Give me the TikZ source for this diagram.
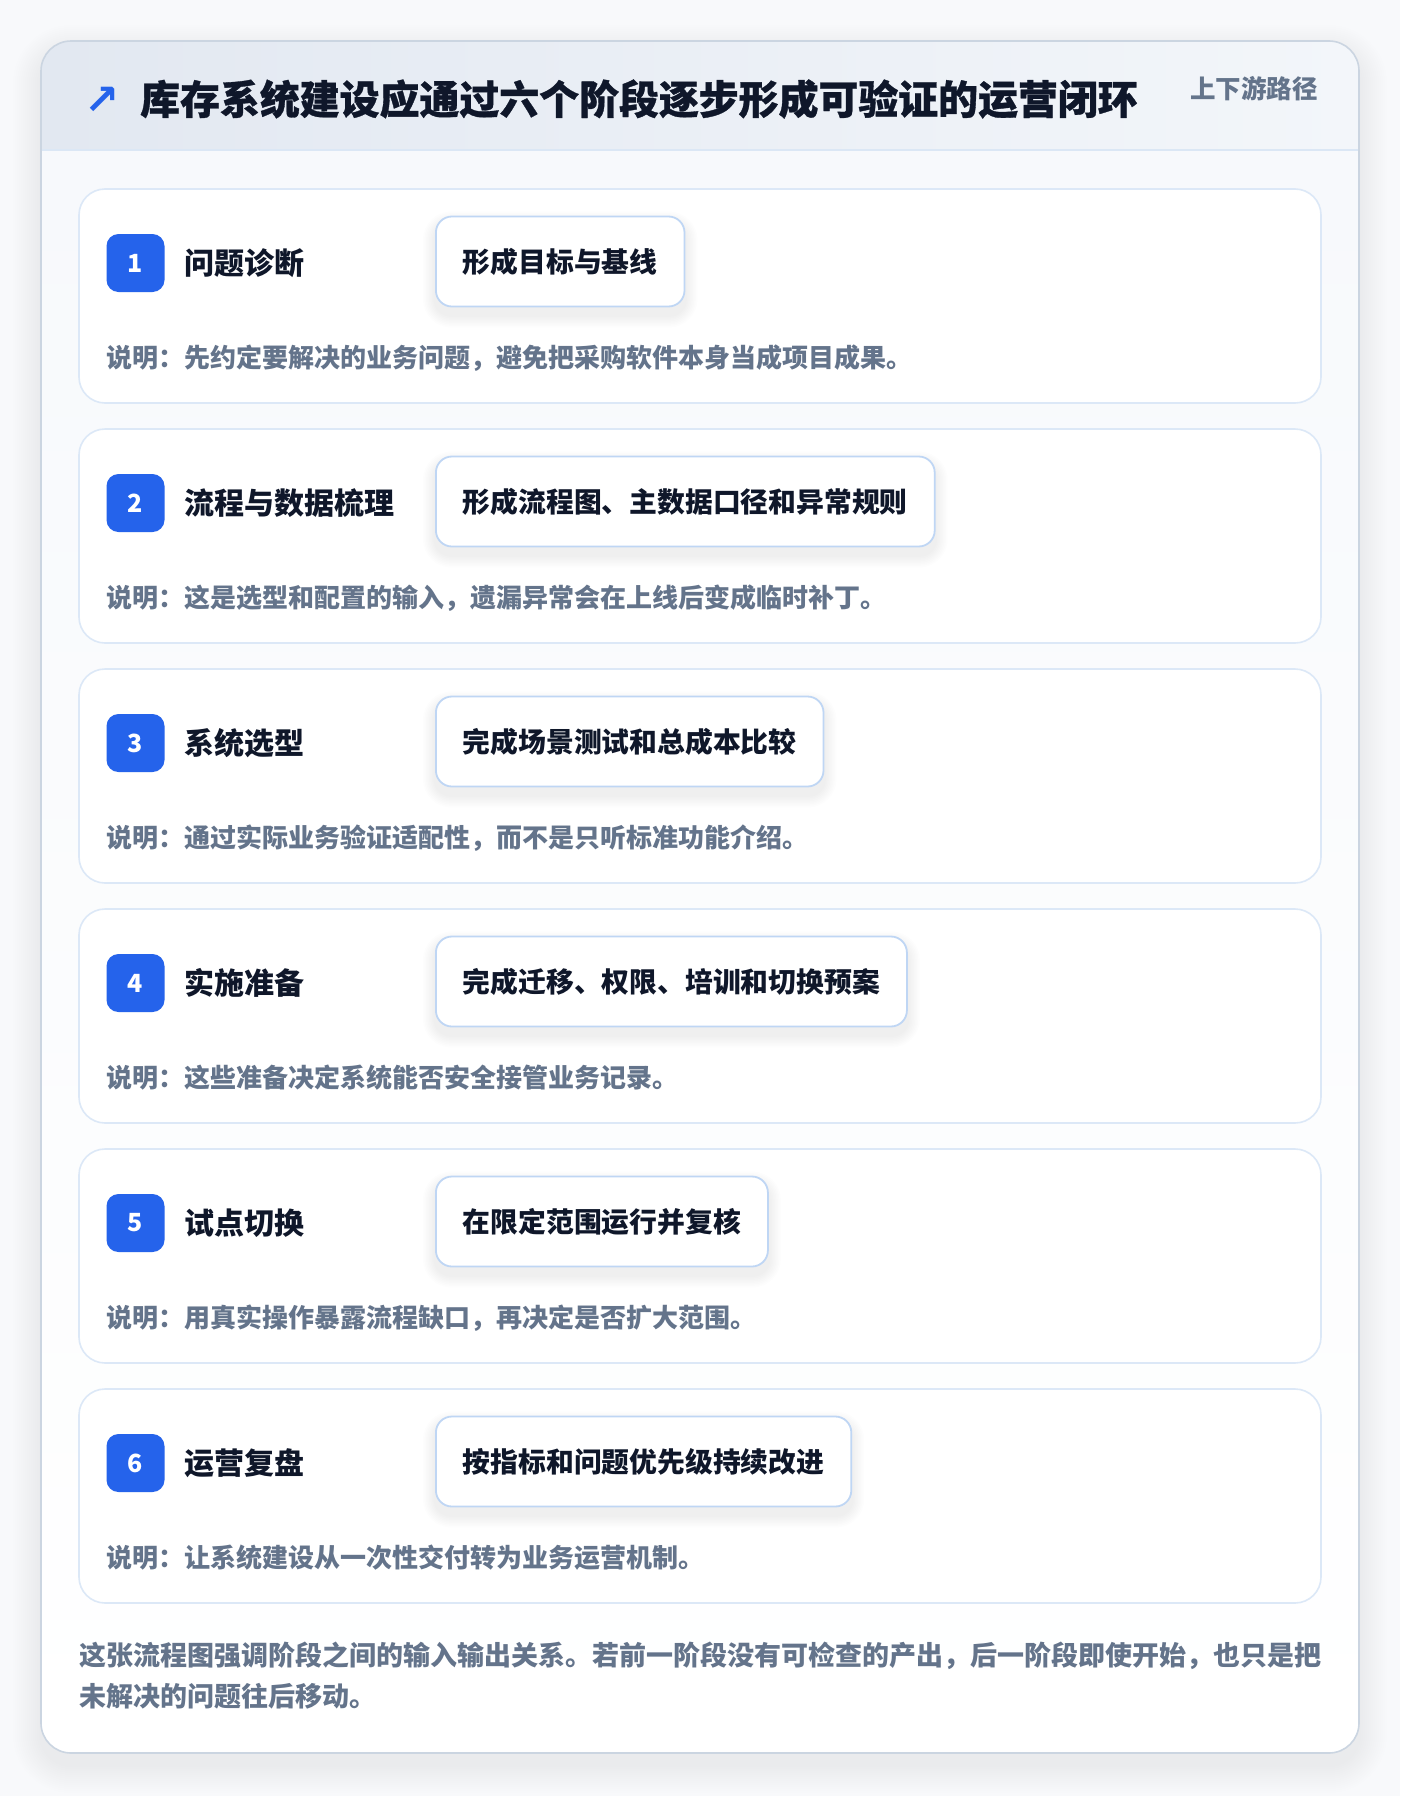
\documentclass[tikz,border=0pt]{standalone}
\usepackage{fontspec}
\setmainfont{Noto Sans CJK SC}
\newfontfamily\heavy[FakeBold=0.8]{Noto Sans CJK SC}
\newfontfamily\dejavu{DejaVu Sans}
\pgfdeclarelayer{back}
\pgfdeclarelayer{cards}
\pgfdeclarelayer{shadowl}
\pgfsetlayers{back,cards,shadowl,main}
\definecolor{pagebg}{HTML}{F8F9FB}
\definecolor{cardline}{HTML}{CBD5E1}
\definecolor{headL}{HTML}{E2E8F1}
\definecolor{headR}{HTML}{F3F6FA}
\definecolor{headline}{HTML}{DBE7F5}
\definecolor{bodytop}{HTML}{F7F9FC}
\definecolor{stageline}{HTML}{DCE8F7}
\definecolor{outline}{HTML}{BFD6F4}
\definecolor{badgeblue}{HTML}{2563EB}
\definecolor{ink}{HTML}{0F172A}
\definecolor{muted}{HTML}{64748B}
\tikzset{
  stagecard/.style={draw=stageline, line width=1.6pt, fill=white, rounded corners=26pt},
  badgebox/.style={fill=badgeblue, rounded corners=12pt, minimum width=58pt, minimum height=58pt, inner sep=0pt, text=white, font=\fontsize{25}{28}\selectfont\bfseries},
  stagetitle/.style={anchor=west, inner sep=0pt, text=ink, font=\fontsize{30}{36}\selectfont\bfseries},
  outbox/.style={anchor=west, draw=outline, line width=1.8pt, fill=white, rounded corners=16pt, minimum height=90pt, inner xsep=27pt, text=ink, font=\fontsize{27.8}{32}\selectfont\bfseries},
  desc/.style={anchor=west, inner sep=0pt, text=muted, font=\fontsize{26}{30}\selectfont\bfseries},
}
\begin{document}
\begin{tikzpicture}[x=1pt,y=-1pt]
\useasboundingbox (0,0) rectangle (1400,1796);
\begin{pgfonlayer}{back}
\fill[pagebg] (0,0) rectangle (1400,1796);
% soft shadow of outer card
\foreach \k in {1,...,14}{
  \fill[black, opacity=0.005] [rounded corners=30+2*\k] (41-2*\k,41-2*\k+12) rectangle (1359+2*\k,1753+2*\k+12);
}
\fill[white, rounded corners=30pt] (41,41) rectangle (1359,1753);
\begin{scope}
  \clip[rounded corners=30pt] (41,41) rectangle (1359,1753);
  \shade[top color=bodytop, bottom color=white] (41,150) rectangle (1359,1753);
  \shade[left color=headL, right color=headR] (41,41) rectangle (1359,150);
  \draw[headline, line width=2pt] (41,150) -- (1359,150);
\end{scope}
\draw[cardline, line width=1.6pt, rounded corners=30pt] (41,41) rectangle (1359,1753);
\end{pgfonlayer}
% header
\node[inner sep=0pt, text=badgeblue, font=\dejavu\bfseries\fontsize{42}{46}\selectfont] (arrow) at (102,101) {↗};
\node[anchor=west, inner sep=0pt, text=ink, font=\heavy\bfseries\fontsize{39.9}{46}\selectfont] (title) at (140,99) {库存系统建设应通过六个阶段逐步形成可验证的运营闭环};
\node[anchor=east, inner sep=0pt, text=muted, font=\fontsize{25.5}{30}\selectfont\bfseries] (tag) at (1318,89) {上下游路径};
% stages
\foreach \i/\t/\o/\d in {
  1/问题诊断/形成目标与基线/说明：先约定要解决的业务问题，避免把采购软件本身当成项目成果。,
  2/流程与数据梳理/形成流程图、主数据口径和异常规则/说明：这是选型和配置的输入，遗漏异常会在上线后变成临时补丁。,
  3/系统选型/完成场景测试和总成本比较/说明：通过实际业务验证适配性，而不是只听标准功能介绍。,
  4/实施准备/完成迁移、权限、培训和切换预案/说明：这些准备决定系统能否安全接管业务记录。,
  5/试点切换/在限定范围运行并复核/说明：用真实操作暴露流程缺口，再决定是否扩大范围。,
  6/运营复盘/按指标和问题优先级持续改进/说明：让系统建设从一次性交付转为业务运营机制。}{
  \pgfmathsetmacro{\top}{189+240*(\i-1)}
  \begin{pgfonlayer}{cards}
  \draw[stagecard] (79,\top) rectangle (1321,\top+214);
  \end{pgfonlayer}
  \node[badgebox] (badge\i) at (135.5,\top+74) {\i};
  \node[stagetitle] (stitle\i) at (184,\top+74) {\t};
  \node[outbox] (out\i) at (435,\top+72.5) {\o};
  \node[desc] (desc\i) at (106,\top+169) {\d};
  \begin{pgfonlayer}{shadowl}
  \foreach \k in {1,...,8}{
    \fill[black, opacity=0.008, rounded corners=16+1.5*\k]
      ([shift={(-1.5*\k,-1.5*\k+8)}]out\i.north west) rectangle ([shift={(1.5*\k,1.5*\k+8)}]out\i.south east);
  }
  \end{pgfonlayer}
}
% footer
\node[anchor=north west, inner sep=0pt, align=left, text=muted, font=\fontsize{27}{41.5}\selectfont\bfseries] (footer) at (79,1641.5) {这张流程图强调阶段之间的输入输出关系。若前一阶段没有可检查的产出，后一阶段即使开始，也只是把\\未解决的问题往后移动。};
\end{tikzpicture}
\end{document}
